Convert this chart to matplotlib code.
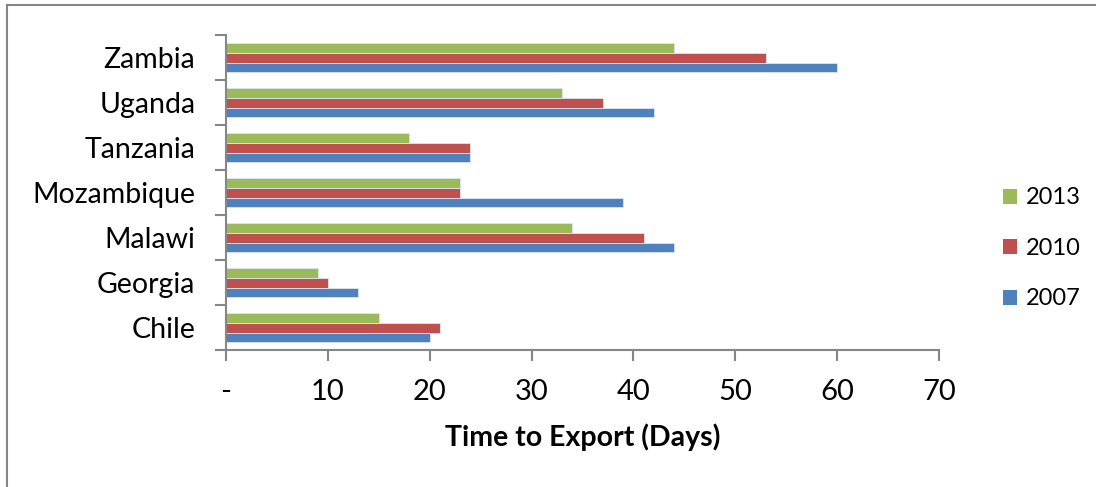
import numpy as np
import matplotlib.pyplot as plt
from matplotlib.lines import Line2D

plt.rcParams['font.family'] = ['Lato', 'DejaVu Sans']

countries = ['Chile', 'Georgia', 'Malawi', 'Mozambique', 'Tanzania', 'Uganda', 'Zambia']
days_2007 = [20, 13, 44, 39, 24, 42, 60]
days_2010 = [21, 10, 41, 23, 24, 37, 53]
days_2013 = [15, 9, 34, 23, 18, 33, 44]
xticks = [0, 10, 20, 30, 40, 50, 60, 70]
xticklabels = ['-', '10', '20', '30', '40', '50', '60', '70']

fig = plt.figure(figsize=(10.96, 4.87), dpi=100)
ax = fig.add_axes([0.2062, 0.2813, 0.6506, 0.6468])

y = np.arange(len(countries))
h = 0.222
series = [(days_2007, '#4F81BD', '2007', -h),
          (days_2010, '#C0504D', '2010', 0),
          (days_2013, '#9BBB59', '2013', h)]
for vals, col, lab, off in series:
    ax.barh(y + off, vals, height=h, color=col, label=lab,
            edgecolor='#dce6f2', linewidth=0.6)

ax.set_xlim(0, 70)
ax.set_ylim(-0.5, len(countries) - 0.5)
ax.set_xticks(xticks)
ax.set_xticklabels(xticklabels, fontsize=21)
ax.set_yticks(y)
ax.set_yticklabels(countries, fontsize=20.5)
ax.set_yticks(np.arange(-0.5, len(countries)), minor=True)
ax.tick_params(axis='y', which='major', length=0, pad=22)
ax.tick_params(axis='y', which='minor', length=8, width=1.5, color='#868686')
ax.tick_params(axis='x', length=8, width=1.5, color='#868686', pad=13)

for s in ['top', 'right']:
    ax.spines[s].set_visible(False)
for s in ['left', 'bottom']:
    ax.spines[s].set_color('#868686')
    ax.spines[s].set_linewidth(1.5)

ax.set_xlabel('Time to Export (Days)', fontsize=20.5, fontweight='bold', labelpad=13)

handles, labels = ax.get_legend_handles_labels()
leg = fig.legend(handles[::-1], labels[::-1], loc='center left',
                 bbox_to_anchor=(0.896, 0.49), frameon=False, fontsize=17,
                 handlelength=0.6, handleheight=0.6, labelspacing=1.25,
                 handletextpad=0.35)
for p in leg.get_patches():
    p.set_edgecolor('none')

fig.add_artist(Line2D([0.0064, 0.0064], [0, 0.99], transform=fig.transFigure,
                      color='#868686', linewidth=1.5))
fig.add_artist(Line2D([0.0064, 1], [0.99, 0.99], transform=fig.transFigure,
                      color='#868686', linewidth=1.5))

fig.savefig('out.png', dpi=100)
